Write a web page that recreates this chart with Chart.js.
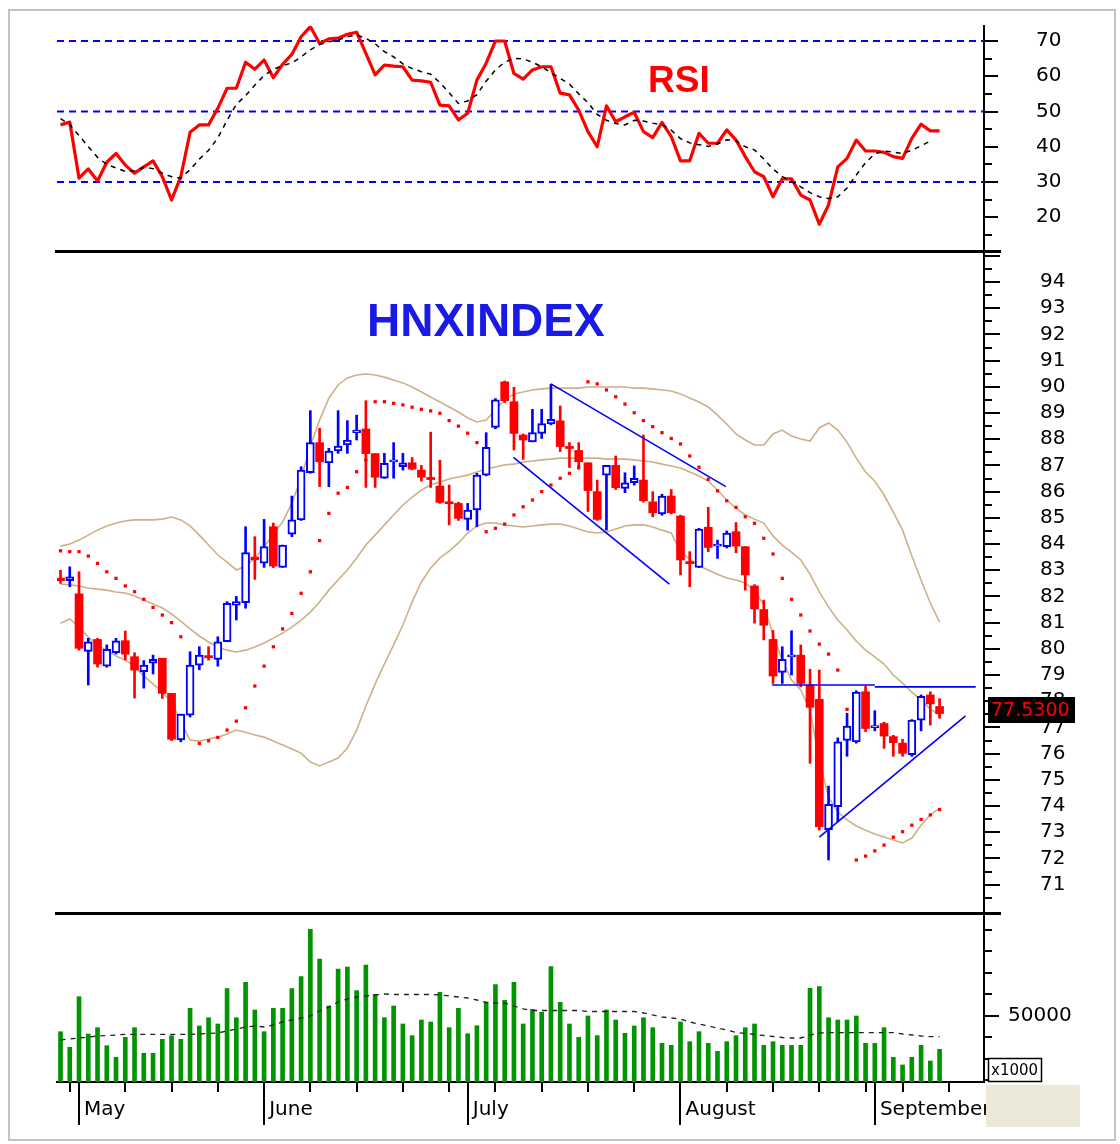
<!DOCTYPE html>
<html><head><meta charset="utf-8">
<style>html,body{margin:0;padding:0;background:#fff;}canvas{display:block;}</style>
<script src="https://cdn.jsdelivr.net/npm/chart.js@4.4.1/dist/chart.umd.min.js"></script>
</head><body>
<canvas id="c" width="1120" height="1144"></canvas>
<script>
// ---------- DATA ----------
const sessions = ['24/04','27/04',
'04/05','05/05','06/05','07/05','08/05','11/05','12/05','13/05','14/05','15/05','18/05','19/05','20/05','21/05','22/05','25/05','26/05','27/05','28/05','29/05',
'01/06','02/06','03/06','04/06','05/06','08/06','09/06','10/06','11/06','12/06','15/06','16/06','17/06','18/06','19/06','22/06','23/06','24/06','25/06','26/06','29/06','30/06',
'01/07','02/07','03/07','06/07','07/07','08/07','09/07','10/07','13/07','14/07','15/07','16/07','17/07','20/07','21/07','22/07','23/07','24/07','27/07','28/07','29/07','30/07','31/07',
'03/08','04/08','05/08','06/08','07/08','10/08','11/08','12/08','13/08','14/08','17/08','18/08','19/08','20/08','21/08','24/08','25/08','26/08','27/08','28/08','31/08',
'01/09','03/09','04/09','07/09','08/09','09/09','10/09','11/09'];

const openP = [82.70,82.60,82.10,79.90,80.36,79.34,79.85,80.31,79.70,79.13,
79.45,79.64,78.30,76.52,77.47,79.38,79.72,79.60,80.27,81.67,
81.76,83.50,83.27,84.66,83.11,84.38,84.92,86.72,87.87,87.10,
87.55,87.78,88.25,88.39,87.45,86.51,87.15,86.95,87.10,86.82,
86.52,86.21,85.60,85.55,84.94,85.30,86.63,88.45,90.19,89.43,
88.16,87.90,88.22,88.58,88.70,87.72,87.57,87.10,86.00,86.63,
87.00,86.12,86.34,86.44,85.61,85.15,85.83,85.07,83.31,83.11,
84.64,83.94,83.90,84.47,83.90,82.40,81.50,80.36,79.10,79.70,
79.76,78.62,78.07,73.10,73.98,76.50,76.45,78.36,77.00,77.15,
76.65,76.40,75.96,77.28,78.24,77.80];
const highP = [83.00,83.13,82.94,80.40,80.40,80.15,80.40,80.68,79.85,79.55,
79.76,79.64,78.30,77.51,79.89,80.08,80.08,80.46,81.80,82.00,
84.66,84.28,84.94,84.80,83.96,85.83,86.95,89.09,88.42,87.65,
89.09,88.71,88.92,89.47,87.45,87.46,87.87,87.46,87.30,87.00,
88.27,87.20,86.25,85.60,85.55,86.70,88.25,89.55,90.22,89.98,
88.20,89.14,89.14,90.10,89.27,87.87,87.87,87.10,86.44,87.00,
87.36,86.72,86.98,88.16,86.00,85.90,86.08,85.10,83.71,84.60,
85.40,84.15,84.50,84.82,83.90,82.45,81.86,80.70,80.08,80.69,
80.15,79.22,79.19,74.76,76.60,77.54,78.40,78.58,77.64,77.20,
76.70,76.55,77.30,78.24,78.36,78.10];
const lowP = [82.50,82.37,79.95,78.62,79.30,79.30,79.80,79.57,78.12,78.50,
79.04,78.11,76.50,76.45,77.40,79.20,79.57,79.34,80.27,81.10,
81.55,82.65,83.11,83.10,83.11,84.28,84.90,86.70,86.19,86.19,
87.46,87.46,87.97,86.16,86.16,86.50,86.51,86.82,86.83,86.40,
86.16,85.55,84.73,84.90,84.53,84.66,86.60,88.40,89.40,87.59,
87.23,87.90,88.03,88.55,87.53,86.92,86.85,85.24,84.90,84.53,
86.08,85.96,86.25,85.60,85.04,85.10,85.15,82.82,82.37,83.10,
83.71,83.45,83.85,83.67,82.24,80.98,80.34,78.68,78.68,79.00,
78.55,75.63,73.08,71.94,73.40,75.90,76.40,76.84,76.87,76.20,
75.90,75.90,75.90,76.87,77.09,77.35];
const closeP = [82.60,82.75,80.02,80.27,79.42,79.98,80.31,79.80,79.19,79.38,
79.60,78.30,76.55,77.51,79.38,79.76,79.68,80.27,81.74,81.80,
83.67,83.40,83.90,83.16,83.96,84.92,86.82,87.87,87.14,87.55,
87.74,87.97,88.35,87.45,86.55,87.08,87.20,87.10,86.86,86.55,
86.48,85.59,85.55,84.98,85.30,86.63,87.69,89.50,89.47,88.22,
87.97,88.25,88.60,88.76,87.72,87.65,87.14,86.04,84.94,87.00,
86.15,86.34,86.51,85.65,85.19,85.83,85.19,83.39,83.27,84.57,
83.87,83.98,84.42,83.92,82.82,81.52,80.90,78.96,79.60,79.76,
78.68,77.77,73.21,74.07,76.45,77.05,78.35,76.96,77.06,76.67,
76.42,76.01,77.28,78.19,77.90,77.53];

const bbUpper = [83.92,84.00,84.15,84.34,84.53,84.69,84.80,84.88,84.92,84.92,
84.92,84.95,85.03,84.92,84.69,84.34,83.96,83.58,83.31,83.01,
83.16,83.47,83.89,84.38,84.84,85.56,86.52,87.74,88.73,89.57,
90.07,90.34,90.45,90.49,90.45,90.37,90.26,90.15,89.99,89.80,
89.61,89.42,89.23,89.04,88.81,88.66,88.73,89.11,89.50,89.73,
89.80,89.88,89.92,89.95,89.95,89.95,89.95,89.99,89.99,89.99,
89.99,89.99,89.95,89.95,89.92,89.88,89.84,89.73,89.57,89.42,
89.23,88.92,88.58,88.20,87.97,87.78,87.78,88.20,88.35,88.12,
88.01,87.93,88.43,88.62,88.35,87.89,87.28,86.75,86.40,85.87,
85.22,84.53,83.54,82.63,81.75,81.02];
const bbMiddle = [82.47,82.44,82.40,82.32,82.28,82.24,82.17,82.13,82.02,81.86,
81.71,81.56,81.33,81.06,80.76,80.49,80.26,80.07,79.95,79.88,
79.95,80.07,80.22,80.41,80.60,80.83,81.10,81.40,81.79,82.24,
82.63,83.01,83.47,83.96,84.34,84.73,85.11,85.49,85.79,86.06,
86.25,86.37,86.48,86.56,86.63,86.75,86.86,86.94,87.02,87.05,
87.13,87.17,87.21,87.24,87.28,87.28,87.28,87.28,87.28,87.24,
87.24,87.24,87.21,87.17,87.13,87.05,86.98,86.90,86.75,86.60,
86.40,86.06,85.68,85.37,85.11,84.95,84.80,84.31,83.96,83.69,
83.39,82.85,82.17,81.60,81.10,80.72,80.30,79.95,79.69,79.42,
79.00,78.69,78.35,78.05,77.70,77.47];
const bbLower = [80.98,81.14,80.83,80.45,80.15,79.92,79.73,79.57,79.34,78.96,
78.66,78.35,77.97,77.21,76.52,76.48,76.56,76.63,76.75,76.90,
76.82,76.71,76.63,76.48,76.33,76.18,76.02,75.68,75.53,75.68,
75.83,76.21,76.90,77.82,78.66,79.42,80.15,80.91,81.79,82.55,
83.08,83.47,83.73,84.04,84.42,84.69,84.80,84.80,84.73,84.69,
84.65,84.69,84.73,84.76,84.76,84.69,84.57,84.46,84.42,84.46,
84.57,84.69,84.73,84.73,84.65,84.53,84.42,83.69,83.43,83.16,
83.01,82.85,82.70,82.63,82.51,82.24,81.67,80.53,79.57,78.81,
78.43,77.66,75.76,74.34,73.77,73.47,73.24,73.08,72.93,72.82,
72.70,72.59,72.78,73.27,73.66,73.92];
const sar = [83.74,83.71,83.71,83.54,83.26,82.94,82.69,82.40,82.18,81.89,
81.58,81.29,81.00,80.46,null,76.39,76.49,76.62,76.90,77.24,
77.75,78.58,79.34,80.08,80.76,81.35,82.12,82.94,84.13,85.17,
85.94,86.16,86.76,87.21,89.43,89.43,89.37,89.31,89.22,89.14,
89.08,88.99,88.71,88.50,88.23,87.87,84.47,84.60,84.76,85.11,
85.42,85.68,86.00,86.25,86.51,86.70,86.93,90.19,90.11,89.88,
89.62,89.34,89.01,88.71,88.48,88.25,88.03,87.82,87.36,86.93,
86.47,86.03,85.65,85.40,85.04,84.79,84.22,83.62,82.69,81.89,
81.29,80.68,80.18,79.80,79.19,77.69,71.94,72.09,72.29,72.51,
72.81,73.02,73.27,73.49,73.66,73.87];

// trend lines: [session index, price]
const channelTop = [[53.0, 90.11], [71.9, 86.19]];
const channelBottom = [[48.95, 87.31], [65.8, 82.47]];
const resistanceA = [[76.9, 78.62], [88.0, 78.62]];
const resistanceB = [[88.0, 78.55], [98.9, 78.55]];
const supportLine = [[82.0, 72.81], [97.8, 77.44]];

const volume = [42700,35440,58980,41630,44560,36190,30790,40090,44560,32650,
32650,39160,40840,39160,53580,45350,49210,46280,62700,49210,
65670,52790,42700,53580,53580,62700,68280,90320,76510,54650,
71860,72790,61770,73720,60090,49210,54650,46280,40840,48140,
47210,61020,44560,53580,41770,45490,56510,64560,57300,65670,
46280,53110,51720,72930,56370,46280,40090,50000,40840,52790,
48140,41950,45350,49210,44560,37300,36370,47210,38050,42700,
37300,33580,38050,40840,44560,46280,36370,38050,36370,36370,
36370,62880,63630,49210,48140,48140,50000,37300,37300,44560,
30790,27210,30790,36370,29070,34510];
const volumeMA = [38840,39300,39770,40230,40700,40930,41160,41490,41490,41490,
41490,41490,41490,41490,41490,41630,41860,42090,43020,43950,
44880,45350,44880,45810,47210,48140,49070,50000,52330,54190,
56510,57910,58840,59300,59770,60230,60000,60000,60000,60000,
60000,59770,59300,58840,58370,57440,56280,56050,56050,54650,
53260,52560,52560,52560,52560,52560,52560,52090,52090,52090,
52090,52090,52090,51400,50470,49530,49070,48600,47210,46280,
45350,44420,43490,42330,41860,41400,40930,40470,40000,39770,
39770,41160,42090,42230,42230,42230,42230,42230,42230,42230,
42230,41630,41160,40700,40370,40370];

const rsi = [46.2,47.0,31.1,33.7,30.3,35.6,38.1,34.8,32.5,34.3,
36.0,31.5,24.9,31.5,44.1,46.2,46.2,50.9,56.6,56.6,
64.0,62.0,64.6,59.6,63.4,66.2,71.2,74.1,69.3,70.6,
70.8,71.9,72.5,66.5,60.4,63.2,62.9,62.7,58.9,58.7,
58.3,51.8,51.6,47.6,49.5,58.9,63.7,70.0,70.0,60.8,
59.2,61.8,62.7,62.7,55.2,54.7,50.4,44.3,40.0,51.6,
47.1,48.5,49.8,44.3,42.6,46.9,42.9,36.0,36.0,43.8,
41.0,41.0,44.8,41.9,37.2,32.9,31.5,25.8,30.9,30.9,
26.3,24.9,18.0,23.5,34.3,36.7,41.9,38.8,38.8,38.4,
37.2,36.7,42.4,46.4,44.5,44.5];
const rsiSignal = [48.0,46.3,43.2,40.0,37.0,35.0,34.0,33.0,33.2,34.2,
33.8,32.5,31.5,31.1,33.5,36.5,39.0,42.5,47.5,52.0,
54.5,57.5,60.2,62.0,63.0,63.8,65.5,67.5,69.0,69.8,
70.3,71.2,71.7,70.8,69.2,67.0,65.5,63.5,62.2,61.3,
60.6,58.2,55.3,52.3,53.0,54.8,58.6,61.8,64.0,65.1,
64.9,64.0,62.7,61.0,59.4,57.8,55.0,52.5,49.2,47.5,
46.6,46.2,47.5,47.3,46.7,46.2,44.7,42.3,41.1,40.6,
40.1,40.8,42.0,41.7,40.0,39.1,36.5,33.7,31.5,30.2,
28.6,27.0,25.8,25.3,25.8,28.3,32.0,35.5,38.0,38.8,
38.5,38.1,39.0,40.3,41.6,null];

const rsiLevels = [30, 50, 70];
const rsiTickLabels = [20, 30, 40, 50, 60, 70];
const priceTickLabels = [71,72,73,74,75,76,77,78,79,80,81,82,83,84,85,86,87,88,89,90,91,92,93,94];
const volumeTickLabels = [50000];
const monthNames = ['May', 'June', 'July', 'August', 'September'];
const monthStartIdx = [2, 22, 44, 67, 88];
const weekTickIdx = [1, 7, 12, 17, 27, 32, 37, 42, 47, 52, 57, 62, 72, 77, 82, 87, 91, 96];
const lastPriceLabel = '77.5300';

// ---------- STYLE / LAYOUT ----------
const X_MIN = -0.38, X_MAX = 99.8;
const RED = '#ff0000', BLUE = '#0000ff', TAN = 'rgb(206,176,136)', GREEN = '#009400';
Chart.defaults.font.family = 'DejaVu Sans';
Chart.defaults.color = '#000';

const pts = arr => arr.map((v, i) => ({x: i, y: v}));
const seg = arr => arr.map(p => ({x: p[0], y: p[1]}));
const isUp = i => closeP[i] >= openP[i];

const bodyData = sessions.map((d, i) => {
  let lo = Math.min(openP[i], closeP[i]), hi = Math.max(openP[i], closeP[i]);
  if (hi - lo < 0.07) { const m = (hi + lo) / 2; lo = m - 0.04; hi = m + 0.04; }
  return {x: i, y: [lo, hi]};
});
const wickData = sessions.map((d, i) => ({x: i, y: [lowP[i], highP[i]]}));

const lineDs = (data, axis, color, width, extra) => Object.assign({
  type: 'line', data, yAxisID: axis, borderColor: color, borderWidth: width,
  pointRadius: 0, tension: 0, fill: false
}, extra || {});

const datasets = [
  ...rsiLevels.map(l => lineDs([{x: X_MIN, y: l}, {x: X_MAX, y: l}], 'yRSI', BLUE, 2, {borderDash: [7, 5], order: 20})),
  lineDs(pts(rsiSignal), 'yRSI', '#000', 1.5, {borderDash: [5, 5], order: 1}),
  lineDs(pts(rsi), 'yRSI', RED, 3.2, {order: 2, borderJoinStyle: 'round'}),
  lineDs(pts(bbUpper), 'yPrice', TAN, 1.6, {order: 15}),
  lineDs(pts(bbMiddle), 'yPrice', TAN, 1.6, {order: 15}),
  lineDs(pts(bbLower), 'yPrice', TAN, 1.6, {order: 15}),
  {type: 'bar', data: wickData, yAxisID: 'yPrice', grouped: false, barThickness: 2, order: 9,
   backgroundColor: sessions.map((d, i) => isUp(i) ? BLUE : RED), borderWidth: 0},
  {type: 'bar', data: bodyData, yAxisID: 'yPrice', grouped: false, barThickness: 8, order: 8,
   backgroundColor: sessions.map((d, i) => isUp(i) ? '#ffffff' : RED),
   borderColor: sessions.map((d, i) => isUp(i) ? BLUE : RED),
   borderWidth: sessions.map((d, i) => isUp(i) ? 2 : 0), borderSkipped: false},
  lineDs(pts(sar), 'yPrice', RED, 0, {showLine: false, pointRadius: 2.3, pointStyle: 'rect',
   pointBackgroundColor: RED, pointBorderWidth: 0, order: 7}),
  ...[channelTop, channelBottom, resistanceA, resistanceB, supportLine].map(s =>
    lineDs(seg(s), 'yPrice', BLUE, 1.6, {order: 6})),
  {type: 'bar', data: pts(volume), yAxisID: 'yVol', grouped: false, barThickness: 4,
   backgroundColor: GREEN, borderWidth: 0, order: 12},
  lineDs(pts(volumeMA), 'yVol', '#222', 1.3, {borderDash: [5, 5], order: 11})
];

// y axes: label start offset is controlled by an invisible tick length
const yAxis = (weight, stackWeight, min, max, labels, labelStart) => ({
  position: 'right', stack: 'panels', weight, stackWeight, min, max, offset: false, bounds: 'data',
  grid: {display: true, drawOnChartArea: false, drawTicks: true, tickLength: labelStart, tickColor: 'rgba(0,0,0,0)'},
  border: {display: true, color: '#000', width: 2},
  ticks: {crossAlign: 'near', autoSkip: false, padding: 0, font: {size: 20}, color: '#000', callback: v => String(v)},
  afterBuildTicks: s => { s.ticks = labels.map(v => ({value: v})); },
  afterFit: s => { s.width = 96; }
});

const deco = {
  id: 'deco',
  beforeDraw(chart) {
    const c = chart.ctx;
    c.save();
    c.fillStyle = '#fff'; c.fillRect(0, 0, chart.width, chart.height);
    c.strokeStyle = '#c2c2c2'; c.lineWidth = 2; c.strokeRect(9, 10, 1106, 1130);
    c.restore();
  },
  afterDraw(chart) {
    const c = chart.ctx, ca = chart.chartArea;
    const sx = chart.scales.x, sr = chart.scales.yRSI, sp = chart.scales.yPrice, sv = chart.scales.yVol;
    c.save();
    c.fillStyle = '#000';
    c.fillRect(55, Math.round(sp.top) - 2, 946, 3);
    c.fillRect(55, Math.round(sv.top) - 2, 946, 3);
    const tk = (s, v, len) => { const y = Math.round(s.getPixelForValue(v)); c.fillRect(ca.right, y - 1, len, 2); };
    for (let v = 15; v <= 70; v += 5) tk(sr, v, v % 10 === 0 ? 14 : 8);
    for (let v = 70.5; v <= 95; v += 0.5) tk(sp, v, Number.isInteger(v) ? 16 : 8);
    for (let v = 20000; v <= 90000; v += 10000) tk(sv, v, v === 50000 ? 15 : 8);
    monthStartIdx.forEach(i => { const x = Math.round(sx.getPixelForValue(i)); c.fillRect(x - 1, ca.bottom, 2, 43); });
    weekTickIdx.forEach(i => { const x = Math.round(sx.getPixelForValue(i)); c.fillRect(x - 1, ca.bottom, 2, 10); });
    const ly = Math.round(sp.getPixelForValue(closeP[closeP.length - 1])) - 4;
    c.fillStyle = '#000'; c.fillRect(988, ly - 13, 87, 26);
    c.fillStyle = RED; c.font = '19px "DejaVu Sans"'; c.textBaseline = 'middle'; c.textAlign = 'left';
    c.fillText(lastPriceLabel, 991, ly + 1);
    c.fillStyle = '#fff'; c.fillRect(988, 1058, 54, 23);
    c.strokeStyle = '#000'; c.lineWidth = 1.5; c.strokeRect(988.5, 1058.5, 53, 23);
    c.fillStyle = '#000'; c.font = '15px "DejaVu Sans"'; c.fillText('x1000', 991, 1071);
    c.fillStyle = 'rgb(236,233,216)'; c.fillRect(986, 1085, 94, 42);
    c.textBaseline = 'alphabetic';
    c.fillStyle = RED; c.font = 'bold 37px "Liberation Sans"'; c.fillText('RSI', 648, 92);
    c.fillStyle = '#1a1ae6'; c.font = 'bold 46px "Liberation Sans"'; c.fillText('HNXINDEX', 367, 336);
    c.restore();
  }
};

new Chart(document.getElementById('c'), {
  type: 'bar',
  data: {datasets},
  plugins: [deco],
  options: {
    responsive: false, animation: false, devicePixelRatio: 1,
    layout: {padding: {left: 57, top: 26, right: 40, bottom: 18}},
    plugins: {legend: {display: false}, tooltip: {enabled: false}},
    scales: {
      x: {
        type: 'linear', position: 'bottom', min: X_MIN, max: X_MAX, offset: false, bounds: 'data',
        grid: {display: true, drawOnChartArea: false, drawTicks: false, offset: false},
        border: {display: true, color: '#000', width: 2},
        afterBuildTicks: s => { s.ticks = monthStartIdx.map(i => ({value: i + 0.55})); },
        ticks: {autoSkip: false, maxRotation: 0, align: 'start', padding: 16, font: {size: 20}, color: '#000',
          callback: (v, idx) => monthNames[idx]},
        afterFit: s => { s.height = 44; }
      },
      yRSI: yAxis(1, 226, 10.14, 74.26, rsiTickLabels, 52),
      yPrice: yAxis(2, 662, 69.88, 95.145, priceTickLabels, 56),
      yVol: yAxis(3, 168, 19300, 97440, volumeTickLabels, 24)
    }
  }
});
</script>
</body></html>
